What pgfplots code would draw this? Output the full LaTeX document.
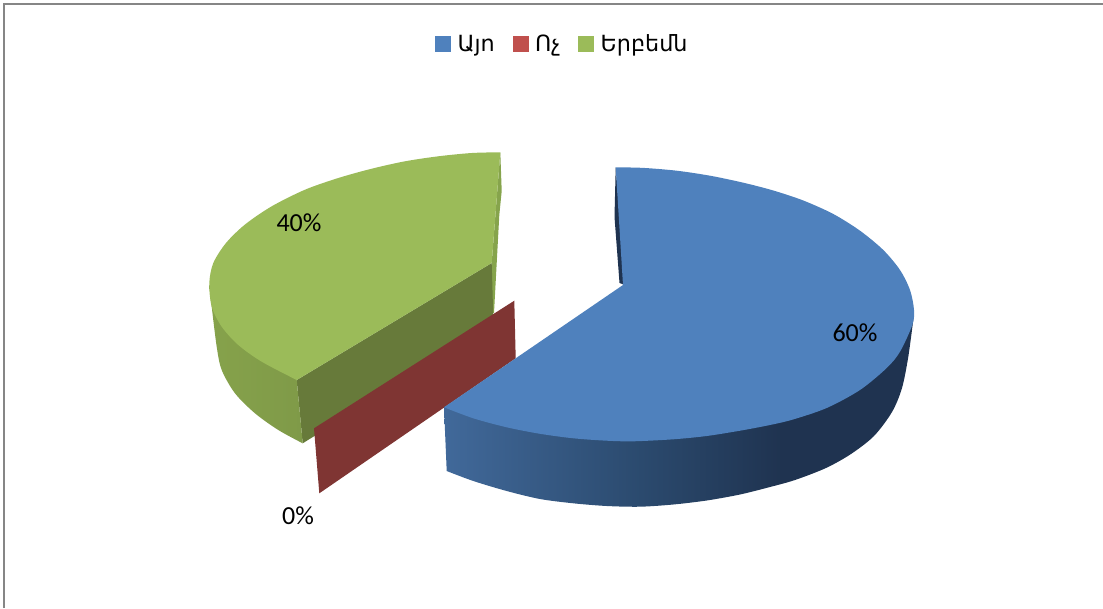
\documentclass[border=0pt]{standalone}
\usepackage{fontspec}
\setmainfont{Carlito}
\newfontfamily\armfont{DejaVu Sans}
\usepackage{pgfplots}
\pgfplotsset{compat=1.18}
\definecolor{bluetop}{HTML}{4F81BD}
\definecolor{blueA}{HTML}{41699A}
\definecolor{blueB}{HTML}{2B4A6E}
\definecolor{blueC}{HTML}{1F3350}
\definecolor{redleg}{HTML}{C0504D}
\definecolor{redwall}{HTML}{7F3533}
\definecolor{greentop}{HTML}{9BBB59}
\definecolor{greenwall}{HTML}{677A3A}
\definecolor{greenA}{HTML}{86A24B}
\definecolor{greenB}{HTML}{7F9A48}
\definecolor{greensl}{HTML}{86A44C}
\definecolor{framecol}{HTML}{868686}
\pgfdeclarehorizontalshading{blueside}{100bp}{color(0bp)=(blueA); color(25bp)=(blueA); color(46bp)=(blueB); color(61bp)=(blueC); color(100bp)=(blueC)}
\pgfdeclarehorizontalshading{greenside}{100bp}{color(0bp)=(greenA); color(25bp)=(greenA); color(75bp)=(greenB); color(100bp)=(greenB)}
\begin{document}
\begin{tikzpicture}
\begin{axis}[
  scale only axis, width=1103pt, height=608pt,
  xmin=0, xmax=1103, ymin=0, ymax=608, y dir=reverse,
  axis lines=none, clip=true,
  legend columns=3,
  legend cell align=left,
  legend style={draw=none, fill=none, at={(axis cs:562.5,44)}, anchor=center,
    font=\armfont\fontsize{22.3}{25}\selectfont,
    /tikz/every even column/.append style={column sep=16pt},
    inner sep=0pt},
  legend image code/.code={\fill[#1] (0pt,-7.5pt) rectangle (15pt,7.5pt); \path[draw=none,fill=none] (0pt,0pt) -- (20pt,0pt);},
]
\addlegendimage{bluetop}
\addlegendentry{Այո}
\addlegendimage{redleg}
\addlegendentry{Ոչ}
\addlegendimage{greentop}
\addlegendentry{Երբեմն}
% frame
\addplot[framecol, line width=1.8pt, forget plot] coordinates {(4,608)(4,3.8)(1103,3.8)};
% green sliver, wall, side
\addplot[fill=greensl, draw=none, forget plot] coordinates {(500.3,152.3)(501.7,191)(499.3,215)(494,313)(492,313)(491.7,263)} -- cycle;
\addplot[fill=greenwall, draw=none, forget plot] coordinates {(296.7,380)(491.7,263)(493.5,325)(302.7,443.3)} -- cycle;
\addplot[shade, shading=greenside, draw=none, smooth, forget plot] coordinates {(209.3,285)(211.7,306.7)(216.7,346.7)(221.7,370)(235,393.3)(255,413.3)(278.3,430)(302.7,443.3)} -- (axis cs:296.7,380) -- cycle;
% green top
\addplot[fill=greentop, draw=none, smooth, forget plot] coordinates {(500.3,152.3)(471.7,153)(438.3,156.3)(405,161.3)(371.7,168.7)(338.3,178)(305,189.7)(271.7,206.3)(245,224.5)(226,243)(213.3,263)(209.3,283)(211.7,306.7)(221.7,326.7)(238.3,345)(261.7,361.7)(296.7,380)} -- (axis cs:491.7,263) -- cycle;
% red wall
\addplot[fill=redwall, draw=none, forget plot] coordinates {(514.3,300.7)(515.7,358.3)(319.3,493.3)(314,428.3)} -- cycle;
% blue sliver and side
\addplot[fill=blueC, draw=none, forget plot] coordinates {(615.7,167.3)(614.5,217)(619.5,283)(625,285)} -- cycle;
\addplot[shade, shading=blueside, draw=none, smooth, forget plot] coordinates {(913.5,318)(908.3,356.7)(902,388)(892,412)(874,436)(851,454)(826,468)(795,480)(770,487)(740,494.5)(706.7,500.5)(673.3,504.5)(640,506.7)(606.7,506)(573.3,503.3)(540,499)(506.7,491)(473.3,481)(446.7,471)} -- (axis cs:444,407) -- cycle;
% blue top
\addplot[fill=bluetop, draw=none, smooth, forget plot] coordinates {(615.7,167.3)(643.3,167.9)(676.7,170.7)(710,175.7)(743.3,182.7)(773.3,190.5)(803.3,200.5)(833.3,214)(860,230.7)(883.3,250)(900,270)(910,290)(914,310)(912.3,325)(900,351.7)(886.7,368)(860,390)(826.7,408)(793,419.5)(770,425)(740,430.7)(706.7,436)(673.3,439.3)(633.3,441.3)(606.7,440.7)(573.3,438.3)(540,433.8)(506.7,427.3)(473.3,418.3)(444,407.3)} -- (axis cs:623,285) -- cycle;
% labels
\node[font=\fontsize{26}{30}\selectfont] at (axis cs:299,223) {40\%};
\node[font=\fontsize{26}{30}\selectfont] at (axis cs:855,333) {60\%};
\node[font=\fontsize{26}{30}\selectfont] at (axis cs:298,516) {0\%};
\end{axis}
\pgfresetboundingbox
\path[use as bounding box] (current axis.south west) rectangle (current axis.north east);
\end{tikzpicture}
\end{document}
